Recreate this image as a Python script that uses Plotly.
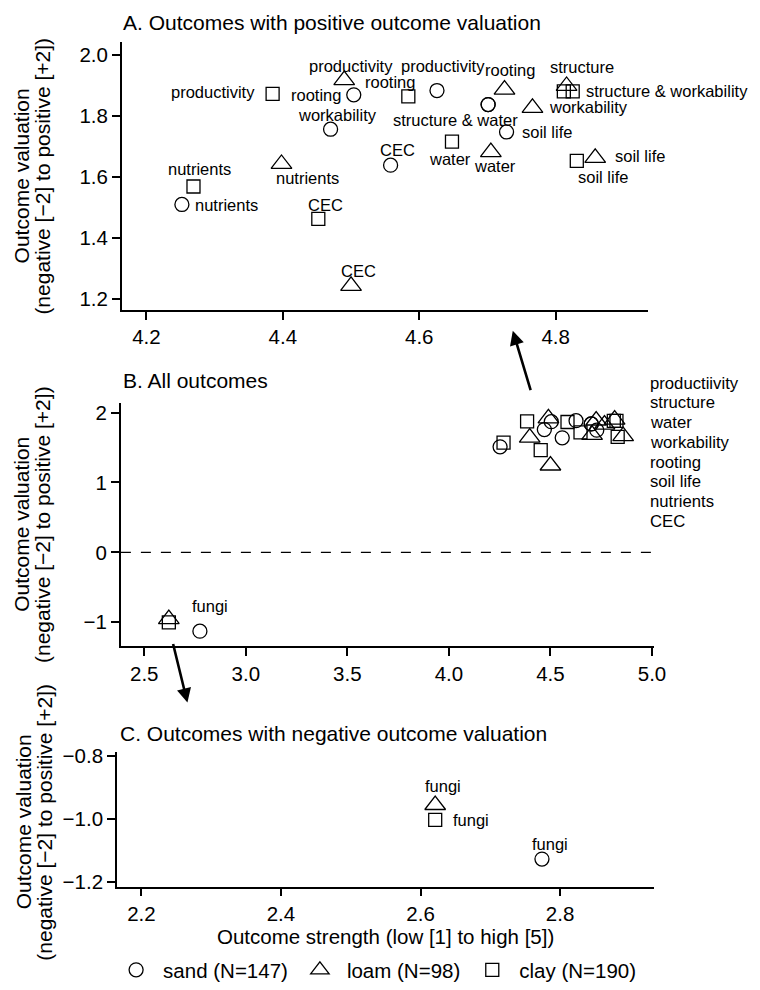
import plotly.graph_objects as go

W, H = 760, 990
FONT = "Liberation Sans, Arial, sans-serif"

# ---------------- data ----------------
outcomes = ["productivity", "structure", "water", "workability",
            "rooting", "soil life", "nutrients", "CEC"]
sand_strength = [4.626, 4.701, 4.701, 4.470, 4.504, 4.728, 4.252, 4.558]
sand_valuation = [1.884, 1.838, 1.838, 1.757, 1.870, 1.748, 1.510, 1.639]
loam_strength = [4.490, 4.816, 4.705, 4.766, 4.725, 4.858, 4.398, 4.500]
loam_valuation = [1.918, 1.899, 1.682, 1.827, 1.887, 1.663, 1.643, 1.243]
clay_strength = [4.385, 4.812, 4.648, 4.825, 4.584, 4.831, 4.269, 4.452]
clay_valuation = [1.873, 1.881, 1.716, 1.881, 1.865, 1.653, 1.569, 1.463]

neg_outcome = "fungi"
neg_strength = {"sand": 2.774, "loam": 2.621, "clay": 2.621}
neg_valuation = {"sand": -1.128, "loam": -0.956, "clay": -1.003}

soil_names = {"sand": "sand (N=147)", "loam": "loam (N=98)", "clay": "clay (N=190)"}
b_outcome_list = ["productiivity", "structure", "water", "workability",
                  "rooting", "soil life", "nutrients", "CEC"]

pos = {
    "sand": (sand_strength, sand_valuation),
    "loam": (loam_strength, loam_valuation),
    "clay": (clay_strength, clay_valuation),
}

# ---------------- styles ----------------
symbols = {"sand": "circle-open", "loam": "triangle-up-open", "clay": "square-open"}
sizes = {"sand": 14, "loam": 18, "clay": 13}
TICK = 20.5
TITLE = 21


def px_x(p):
    return p / W


def px_y(p):
    return 1 - p / H


# panel pixel boxes: (left, right, top, bottom)
boxes = {
    "A": (124, 659, 35, 307),
    "B": (123, 665, 401.7, 649.3),
    "C": (119, 665, 757, 894),
}
ranges = {
    "A": ([4.164, 4.935], [1.1645, 2.042], 0.2, 0.2, ".1f", ".1f"),
    "B": ([2.385, 5.008], [-1.342, 2.14], 0.5, 1, ".1f", "d"),
    "C": ([2.165, 2.934], [-1.2156, -0.7875], 0.2, 0.2, ".1f", ".1f"),
}
axis_ids = {"A": ("x", "y"), "B": ("x2", "y2"), "C": ("x3", "y3")}

fig = go.Figure()

# panel A and B positive points
for panel in ["A", "B"]:
    xa, ya = axis_ids[panel]
    for soil in ["sand", "loam", "clay"]:
        xs, ys = pos[soil]
        fig.add_trace(go.Scatter(
            x=xs, y=ys, mode="markers", xaxis=xa, yaxis=ya,
            name=soil_names[soil], legendgroup=soil, showlegend=False,
            marker=dict(symbol=symbols[soil], size=sizes[soil], color="black",
                        line=dict(width=1.3, color="black")),
            hoverinfo="skip"))

# negative points in B and C
for panel in ["B", "C"]:
    xa, ya = axis_ids[panel]
    for soil in ["sand", "loam", "clay"]:
        fig.add_trace(go.Scatter(
            x=[neg_strength[soil]], y=[neg_valuation[soil]], mode="markers",
            xaxis=xa, yaxis=ya, name=soil_names[soil], legendgroup=soil,
            showlegend=(panel == "C"),
            marker=dict(symbol=symbols[soil], size=sizes[soil], color="black",
                        line=dict(width=1.3, color="black")),
            hoverinfo="skip"))

layout = dict(
    width=W, height=H, margin=dict(l=0, r=0, t=0, b=0),
    paper_bgcolor="white", plot_bgcolor="white",
    font=dict(family=FONT, size=20, color="black"),
    showlegend=True,
    legend=dict(orientation="h", x=px_x(111), y=px_y(979), xanchor="left",
                yanchor="middle", font=dict(size=20.5), itemwidth=44,
                bgcolor="rgba(0,0,0,0)", traceorder="normal"),
)

for panel, (l, r, t, b) in boxes.items():
    xa, ya = axis_ids[panel]
    xr, yr, dx, dy, xf, yf = ranges[panel]
    common = dict(showline=True, linecolor="black", linewidth=1.6, ticks="outside",
                  ticklen=8, tickwidth=1.5, tickcolor="black", showgrid=False,
                  zeroline=False, mirror=False, tickfont=dict(size=TICK, color="black"))
    xkey = "xaxis" if xa == "x" else "xaxis" + xa[1:]
    ykey = "yaxis" if ya == "y" else "yaxis" + ya[1:]
    layout[xkey] = dict(common, domain=[px_x(l), px_x(r)], range=xr, dtick=dx,
                        tickformat=xf, anchor=ya)
    layout[ykey] = dict(common, domain=[px_y(b), px_y(t)], range=yr, dtick=dy,
                        tickformat=yf, anchor=xa)

fig.update_layout(**layout)

annotations = []
LBL = 16.5


def point_label(panel, x, y, text, anchor, dx, dy):
    xa, ya = axis_ids[panel]
    xanchor = {"c": "center", "l": "left", "r": "right"}[anchor]
    annotations.append(dict(x=x, y=y, xref=xa, yref=ya, text=text, showarrow=False,
                            xanchor=xanchor, yanchor="middle", xshift=dx, yshift=dy,
                            font=dict(size=LBL, color="black")))


# panel A labels: (soil, outcome index, text, anchor, dx, dy)
a_labels = [
    ("sand", 0, None, "c", 6, 25),
    ("sand", 4, None, "r", -11, 0),
    ("sand", 3, None, "c", 7, 14),
    ("sand", 7, None, "c", 7, 15),
    ("sand", 6, None, "l", 11, -1),
    ("sand", 1, "structure & water", "c", -33, -15),
    ("sand", 5, None, "l", 13, 0),
    ("loam", 0, None, "c", 7, 14),
    ("loam", 4, None, "c", 6, 20),
    ("loam", 1, None, "c", 15, 19),
    ("loam", 3, None, "l", 15, 1),
    ("loam", 2, None, "c", 4, -14),
    ("loam", 5, None, "l", 18, 2),
    ("loam", 6, None, "c", 26, -14),
    ("loam", 7, None, "c", 7, 15),
    ("clay", 0, None, "r", -16, 2),
    ("clay", 4, None, "c", -18, 14),
    ("clay", 3, "structure & workability", "l", 11, 0),
    ("clay", 2, None, "c", -2, -17),
    ("clay", 5, None, "c", 26, -16),
    ("clay", 6, None, "c", 6, 17),
    ("clay", 7, None, "c", 7, 14),
]
for soil, i, text, anc, dx, dy in a_labels:
    xs, ys = pos[soil]
    point_label("A", xs[i], ys[i], text if text else outcomes[i], anc, dx, dy)

# panel B fungi label
point_label("B", neg_strength["sand"], neg_valuation["sand"], neg_outcome, "c", 10, 25)

# panel C labels
point_label("C", neg_strength["loam"], neg_valuation["loam"], neg_outcome, "c", 8, 19)
point_label("C", neg_strength["clay"], neg_valuation["clay"], neg_outcome, "l", 16, 0)
point_label("C", neg_strength["sand"], neg_valuation["sand"], neg_outcome, "c", 8, 15)

# panel B outcome list at right
for k, name in enumerate(b_outcome_list):
    annotations.append(dict(x=px_x(659), y=px_y(381.7 + 20.1 * k), xref="paper", yref="paper",
                            text=name, showarrow=False, xanchor="left", yanchor="middle",
                            font=dict(size=16.7, color="black")))

# panel titles
titles = [("A. Outcomes with positive outcome valuation", 123, 15),
          ("B. All outcomes", 123, 379),
          ("C. Outcomes with negative outcome valuation", 120, 738)]
for text, x, y in titles:
    annotations.append(dict(x=px_x(x), y=px_y(y), xref="paper", yref="paper", text=text,
                            showarrow=False, xanchor="left", yanchor="middle",
                            font=dict(size=TITLE, color="black")))

# y-axis titles (two lines each)
ytitle1 = "Outcome valuation"
ytitle2 = "(negative [−2] to positive [+2])"
for (x1, x2, yc) in [(21.7, 43.3, 171), (21.7, 43.3, 525.5), (24, 45.7, 828)]:
    for txt, xx in [(ytitle1, x1), (ytitle2, x2)]:
        annotations.append(dict(x=px_x(xx), y=px_y(yc), xref="paper", yref="paper",
                                text=txt, textangle=-90, showarrow=False,
                                xanchor="center", yanchor="middle",
                                font=dict(size=TITLE, color="black")))

# x-axis title
annotations.append(dict(x=px_x(392), y=px_y(945), xref="paper", yref="paper",
                        text="Outcome strength (low [1] to high [5])", showarrow=False,
                        xanchor="center", yanchor="middle", font=dict(size=20.5, color="black")))

# arrows linking panels
for (tipx, tipy, tailx, taily) in [(521.7, 328.3, 540, 389.3), (190.7, 706.7, 176, 646.7)]:
    annotations.append(dict(x=px_x(tipx), y=px_y(tipy), xref="paper", yref="paper",
                            ax=tailx - tipx, ay=taily - tipy, axref="pixel", ayref="pixel",
                            text="", showarrow=True, arrowhead=2, arrowsize=1.1,
                            arrowwidth=2.6, arrowcolor="black"))

fig.update_layout(annotations=annotations)

# dashed zero line in panel B
fig.add_shape(type="line", xref="x2 domain", yref="y2", x0=0, x1=1, y0=0, y1=0,
              line=dict(color="black", width=1.3, dash="10px,10px"))

fig.write_html("out.html")
